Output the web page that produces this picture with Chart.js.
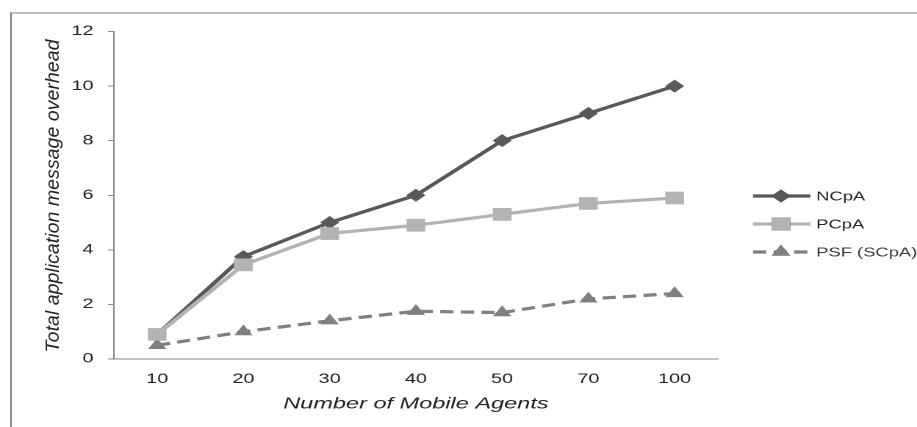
<!DOCTYPE html>
<html>
<head>
<meta charset="utf-8">
<script src="https://cdn.jsdelivr.net/npm/chart.js@4.4.1/dist/chart.umd.min.js"></script>
<style>
  html, body { margin: 0; padding: 0; background: #fff; overflow: hidden; }
  #frame {
    position: absolute; left: 10px; top: 12px; width: 1000px; height: 1000px;
    border-top: 2px solid #bcbcbc; border-left: 2px solid #8e8e8e;
  }
  #chart {
    position: absolute; left: 0; top: 0;
    width: 624px; height: 427px;
    transform: scaleX(1.4696); transform-origin: 0 0;
  }
</style>
</head>
<body>
<div id="frame"></div>
<canvas id="chart" width="624" height="427"></canvas>
<script>
// values
var agents = ['10', '20', '30', '40', '50', '70', '100'];
var ncpa = [0.9, 3.75, 5.0, 6.0, 8.0, 9.0, 10.0];
var pcpa = [0.9, 3.45, 4.6, 4.9, 5.3, 5.7, 5.9];
var psf = [0.5, 1.0, 1.4, 1.75, 1.7, 2.2, 2.4];
var seriesNames = ['NCpA', 'PCpA', 'PSF (SCpA)'];

var STRETCH = 917 / 624;   // the picture is wider than it is drawn
var axisGrey = '#868686';

Chart.defaults.font.family = "'Liberation Sans', Arial, sans-serif";
Chart.defaults.color = '#222';

// y title is drawn upright (not stretched), legend is drawn line + marker like Excel
var extras = {
  id: 'extras',
  afterDraw: function(chart) {
    var ctx = chart.ctx;
    var area = chart.chartArea;

    ctx.save();
    ctx.translate(53 / STRETCH, 196);
    ctx.scale(1 / STRETCH, 1);
    ctx.rotate(-Math.PI / 2);
    ctx.font = "italic 19.6px 'Liberation Sans', Arial, sans-serif";
    ctx.fillStyle = '#222';
    ctx.textAlign = 'center';
    ctx.textBaseline = 'middle';
    ctx.fillText('Total application message overhead', 0, 0);
    ctx.restore();

    var rows = [196, 224, 252];
    var x0 = area.right + 24, x1 = area.right + 63, xm = area.right + 43;
    chart.data.datasets.forEach(function(ds, i) {
      var y = rows[i];
      ctx.save();
      ctx.strokeStyle = ds.borderColor;
      ctx.lineWidth = ds.borderWidth;
      ctx.setLineDash(ds.borderDash || []);
      ctx.beginPath();
      ctx.moveTo(x0, y);
      ctx.lineTo(x1, y);
      ctx.stroke();
      ctx.setLineDash([]);
      Chart.helpers.drawPoint(ctx, {
        pointStyle: ds.pointStyle,
        radius: ds.pointRadius,
        rotation: 0,
        borderWidth: 0
      }, xm, y);
      ctx.fillStyle = ds.backgroundColor;
      ctx.fill();
      ctx.font = "12.5px 'Liberation Sans', Arial, sans-serif";
      ctx.fillStyle = i == 2 ? '#3a3a3a' : '#222';
      ctx.textBaseline = 'middle';
      ctx.fillText(ds.label, x1 + 4, y + 1);
      ctx.restore();
    });
  }
};

new Chart('chart', {
  type: 'line',
  data: {
    labels: agents,
    datasets: [
      {
        label: seriesNames[0],
        data: ncpa,
        borderColor: '#595959',
        backgroundColor: '#595959',
        borderWidth: 3.2,
        pointStyle: 'rectRot',
        pointRadius: 6.5,
        pointBorderWidth: 0,
        order: 2
      },
      {
        label: seriesNames[1],
        data: pcpa,
        borderColor: '#b3b3b3',
        backgroundColor: '#b3b3b3',
        borderWidth: 3.2,
        pointStyle: 'rect',
        pointRadius: 9,
        pointBorderWidth: 0,
        order: 1
      },
      {
        label: seriesNames[2],
        data: psf,
        borderColor: '#808080',
        backgroundColor: '#808080',
        borderWidth: 3.2,
        borderDash: [9, 5],
        pointStyle: 'triangle',
        pointRadius: 7.2,
        pointBorderWidth: 0,
        order: 3
      }
    ]
  },
  options: {
    responsive: false,
    devicePixelRatio: 2,
    animation: false,
    layout: {
      padding: { left: 0, right: 135.6, top: 31.5, bottom: 0 }
    },
    plugins: {
      legend: { display: false },
      tooltip: { enabled: false }
    },
    scales: {
      x: {
        offset: true,
        grid: { display: false, drawTicks: false },
        border: { display: true, color: axisGrey, width: 1 },
        ticks: { font: { size: 13.5 }, padding: 12, color: '#222' },
        title: {
          display: true,
          text: 'Number of Mobile Agents',
          font: { size: 16, style: 'italic' },
          color: '#222',
          padding: { top: 0, bottom: 13.4 }
        },
        afterFit: function(scale) { scale.height = 68; }
      },
      y: {
        min: 0,
        max: 12,
        ticks: { stepSize: 2, font: { size: 13.5 }, padding: 10, color: '#222' },
        grid: { drawOnChartArea: false, drawTicks: true, tickLength: 4, color: axisGrey },
        border: { display: true, color: axisGrey, width: 1 },
        afterFit: function(scale) { scale.width = 77.6; }
      }
    }
  },
  plugins: [extras]
});
</script>
</body>
</html>
